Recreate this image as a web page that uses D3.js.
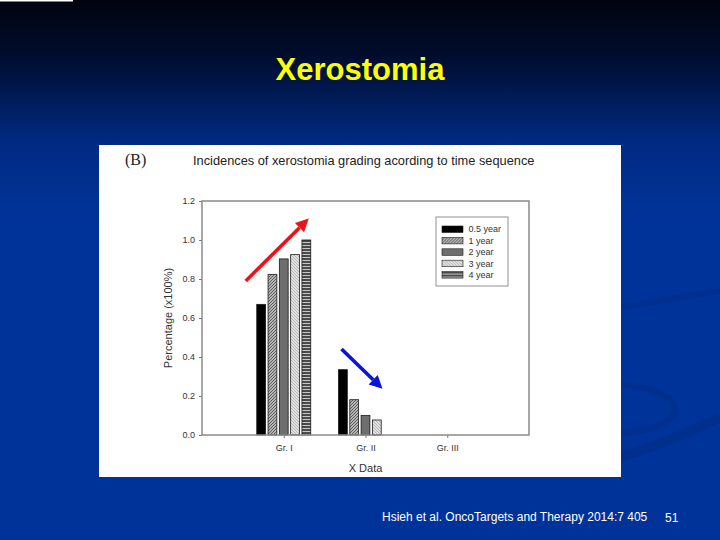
<!DOCTYPE html>
<html>
<head>
<meta charset="utf-8">
<script src="https://cdn.jsdelivr.net/npm/d3@7"></script>
<style>
  body { margin: 0; background: #003399; }
  svg { display: block; font-family: 'Liberation Sans', Arial, sans-serif; }
</style>
</head>
<body>
<svg></svg>
<script>
// chart data
let categories = ['Gr. I', 'Gr. II', 'Gr. III']
let seriesNames = ['0.5 year', '1 year', '2 year', '3 year', '4 year']
let halfYear = [0.67, 0.335, 0]
let oneYear = [0.824, 0.181, 0]
let twoYear = [0.903, 0.10, 0]
let threeYear = [0.925, 0.077, 0]
let fourYear = [1.0, 0, 0]
let yTicks = [0, 0.2, 0.4, 0.6, 0.8, 1.0, 1.2]

// arrows drawn on the slide, in data terms (category, offset from tick, value)
let arrowStart = [['Gr. I', -38, 0.79], ['Gr. II', -24, 0.441]]
let arrowEnd = [['Gr. I', 25, 1.11], ['Gr. II', 17, 0.237]]
let arrowColors = ['#e8141b', '#0a14d8']

let seriesValues = [halfYear, oneYear, twoYear, threeYear, fourYear]

let width = 720
let height = 540
let plotLeft = 202
let plotRight = 529
let plotTop = 201
let plotBottom = 435

let svg = d3.select('svg')
let xScale, innerScale, yScale

let drawCanvas = () => {
    svg.attr('width', width).attr('height', height)

    let defs = svg.append('defs')
    let grad = defs.append('linearGradient')
        .attr('id', 'bg').attr('x1', 0).attr('y1', 0).attr('x2', 0).attr('y2', 1)
    grad.append('stop').attr('offset', '0%').attr('stop-color', '#00040e')
    grad.append('stop').attr('offset', '10%').attr('stop-color', '#000c2c')
    grad.append('stop').attr('offset', '26%').attr('stop-color', '#002a82')
    grad.append('stop').attr('offset', '40%').attr('stop-color', '#003399')
    grad.append('stop').attr('offset', '100%').attr('stop-color', '#003399')

    // hatch patterns like the SigmaPlot fills
    let p1 = defs.append('pattern').attr('id', 'hatch1')
        .attr('patternUnits', 'userSpaceOnUse').attr('width', 3).attr('height', 3)
    p1.append('rect').attr('width', 3).attr('height', 3).attr('fill', '#b4b4b4')
    p1.append('path').attr('d', 'M-1,1 L1,-1 M0,3 L3,0 M2,4 L4,2')
        .attr('stroke', '#555').attr('stroke-width', 0.9)

    let p3 = defs.append('pattern').attr('id', 'hatch3')
        .attr('patternUnits', 'userSpaceOnUse').attr('width', 3).attr('height', 3)
    p3.append('rect').attr('width', 3).attr('height', 3).attr('fill', '#e2e2e2')
    p3.append('path').attr('d', 'M-1,2 L1,4 M0,0 L3,3 M2,-1 L4,1')
        .attr('stroke', '#a8a8a8').attr('stroke-width', 0.8)

    let p4 = defs.append('pattern').attr('id', 'hatch4')
        .attr('patternUnits', 'userSpaceOnUse').attr('width', 3).attr('height', 3)
    p4.append('rect').attr('width', 3).attr('height', 3).attr('fill', '#4a4a4a')
    p4.append('rect').attr('y', 2).attr('width', 3).attr('height', 1).attr('fill', '#c8c8c8')

    svg.append('rect').attr('width', width).attr('height', height).attr('fill', 'url(#bg)')
    svg.append('rect').attr('width', 73).attr('height', 1.5).attr('fill', '#ffffff')

    // faint swooshes of the slide template
    svg.append('path')
        .attr('d', 'M615,308 C660,300 690,296 720,291')
        .attr('fill', 'none').attr('stroke', '#00308f').attr('stroke-width', 6)
    svg.append('path')
        .attr('d', 'M615,384 C690,388 700,428 615,434')
        .attr('fill', 'none').attr('stroke', '#002f8d').attr('stroke-width', 6)
    svg.append('path')
        .attr('d', 'M615,458 C660,446 690,432 720,417')
        .attr('fill', 'none').attr('stroke', '#002f8d').attr('stroke-width', 10)

    svg.append('text')
        .attr('x', 360).attr('y', 80)
        .attr('text-anchor', 'middle')
        .attr('font-size', 31).attr('font-weight', 'bold')
        .attr('fill', '#ffff00')
        .text('Xerostomia')

    svg.append('text')
        .attr('x', 382).attr('y', 521)
        .attr('font-size', 12).attr('fill', '#ffffff')
        .text('Hsieh et al. OncoTargets and Therapy 2014:7 405')
    svg.append('text')
        .attr('x', 665).attr('y', 522)
        .attr('font-size', 12).attr('fill', '#ffffff')
        .text('51')

    // white figure panel
    svg.append('rect')
        .attr('x', 99).attr('y', 145).attr('width', 522).attr('height', 332)
        .attr('fill', '#ffffff')
}

let drawScale = () => {
    xScale = d3.scalePoint()
                .domain(categories)
                .range([plotLeft, plotRight])
                .padding(1)

    innerScale = d3.scaleBand()
                .domain(seriesNames)
                .range([-27, 27])
                .paddingInner(0.22)

    yScale = d3.scaleLinear()
                .domain([0, 1.2])
                .range([plotBottom, plotTop])
}

let fills = ['#000000', 'url(#hatch1)', '#6e6e6e', 'url(#hatch3)', 'url(#hatch4)']

let drawBar = () => {
    let groups = svg.selectAll('g.series')
        .data(seriesValues)
        .enter()
        .append('g')
        .attr('class', 'series')
        .attr('fill', (d, i) => fills[i])

    groups.selectAll('rect')
        .data((d, i) => d.map((v, j) => ({ s: seriesNames[i], cat: categories[j], v: v })))
        .enter()
        .filter(d => d.v > 0)
        .append('rect')
        .attr('x', d => xScale(d.cat) + innerScale(d.s))
        .attr('width', innerScale.bandwidth())
        .attr('y', d => yScale(d.v))
        .attr('height', d => yScale(0) - yScale(d.v))
        .attr('stroke', '#1a1a1a')
        .attr('stroke-width', 0.8)
}

let drawAxis = () => {
    let yAxis = d3.axisLeft(yScale)
        .tickValues(yTicks)
        .tickFormat(d3.format('.1f'))
        .tickSize(3)
        .tickPadding(4)

    let gy = svg.append('g')
        .attr('id', 'y-axis')
        .attr('transform', 'translate(' + plotLeft + ',0)')
        .call(yAxis)

    let xAxis = d3.axisBottom(xScale)
        .tickSize(3)
        .tickPadding(7)

    let gx = svg.append('g')
        .attr('id', 'x-axis')
        .attr('transform', 'translate(0,' + plotBottom + ')')
        .call(xAxis)

    ;[gx, gy].forEach(g => {
        g.select('.domain').remove()
        g.selectAll('line').attr('stroke', '#777')
        g.selectAll('text').attr('font-size', 9).attr('fill', '#333')
            .attr('font-family', "'Liberation Sans', Arial, sans-serif")
    })

    // frame round the plot
    svg.append('rect')
        .attr('x', plotLeft).attr('y', plotTop)
        .attr('width', plotRight - plotLeft).attr('height', plotBottom - plotTop)
        .attr('fill', 'none').attr('stroke', '#8a8a8a').attr('stroke-width', 1.5)

    svg.append('text')
        .attr('transform', 'translate(172,' + ((plotTop + plotBottom) / 2) + ') rotate(-90)')
        .attr('text-anchor', 'middle')
        .attr('font-size', 11).attr('fill', '#333')
        .text('Percentage (x100%)')

    svg.append('text')
        .attr('x', (plotLeft + plotRight) / 2).attr('y', 471.5)
        .attr('text-anchor', 'middle')
        .attr('font-size', 11).attr('fill', '#333')
        .text('X Data')

    svg.append('text')
        .attr('x', 125).attr('y', 165)
        .attr('font-family', "'Liberation Serif', 'Times New Roman', serif")
        .attr('font-size', 16).attr('fill', '#222')
        .text('(B)')

    svg.append('text')
        .attr('x', 193).attr('y', 165)
        .attr('font-size', 12.8).attr('fill', '#222')
        .text('Incidences of xerostomia grading acording to time sequence')
}

let drawLegend = () => {
    let legend = svg.append('g').attr('transform', 'translate(436,217)')
    legend.append('rect')
        .attr('width', 72).attr('height', 69)
        .attr('fill', '#fff').attr('stroke', '#777').attr('stroke-width', 0.8)

    let rows = legend.selectAll('g.item')
        .data(seriesNames)
        .enter()
        .append('g')
        .attr('class', 'item')
        .attr('transform', (d, i) => 'translate(0,' + (12 + i * 11.4) + ')')

    rows.append('rect')
        .attr('x', 6).attr('y', -3).attr('width', 21).attr('height', 6.5)
        .attr('fill', (d, i) => fills[i])
        .attr('stroke', '#1a1a1a').attr('stroke-width', 0.6)

    rows.append('text')
        .attr('x', 32.5).attr('y', 3.3)
        .attr('font-size', 9).attr('fill', '#333')
        .text(d => d)
}

let drawArrows = () => {
    arrowStart.forEach((s, i) => {
        let e = arrowEnd[i]
        let x1 = xScale(s[0]) + s[1], y1 = yScale(s[2])
        let x2 = xScale(e[0]) + e[1], y2 = yScale(e[2])
        let ang = Math.atan2(y2 - y1, x2 - x1)
        let headLen = 13, headW = 6.5
        let bx = x2 - headLen * Math.cos(ang), by = y2 - headLen * Math.sin(ang)
        svg.append('line')
            .attr('x1', x1).attr('y1', y1).attr('x2', bx).attr('y2', by)
            .attr('stroke', arrowColors[i]).attr('stroke-width', 3.6)
        let pts = [
            [x2, y2],
            [bx + headW * Math.sin(ang), by - headW * Math.cos(ang)],
            [bx - headW * Math.sin(ang), by + headW * Math.cos(ang)]
        ]
        svg.append('polygon')
            .attr('points', pts.map(p => p.join(',')).join(' '))
            .attr('fill', arrowColors[i])
    })
}

drawCanvas()
drawScale()
drawBar()
drawAxis()
drawLegend()
drawArrows()
</script>
</body>
</html>
